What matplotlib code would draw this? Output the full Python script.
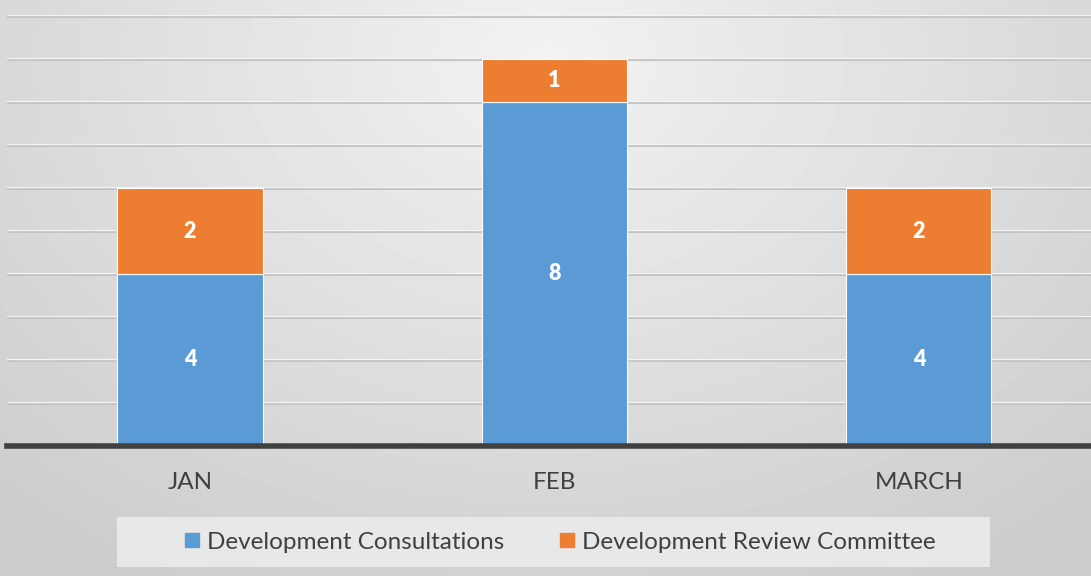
import numpy as np
import matplotlib.pyplot as plt
from matplotlib.patches import Rectangle
from matplotlib.lines import Line2D

months = ['JAN', 'FEB', 'MARCH']
consultations = [4, 8, 4]
review_committee = [2, 1, 2]
series_names = ['Development Consultations', 'Development Review Committee']
colors = ['#5b9bd5', '#ed7d31']

plt.rcParams['font.family'] = ['Lato', 'DejaVu Sans']

fig = plt.figure(figsize=(10.91, 5.76), dpi=100)

# soft radial gradient background
bg = fig.add_axes([0, 0, 1, 1], zorder=0)
yy, xx = np.mgrid[0:576, 0:1091]
r = np.sqrt(((xx - 545) / 700.0) ** 2 + ((yy - 60) / 520.0) ** 2)
shade = np.clip(0.95 - 0.13 * r, 0.80, 0.95)
bg.imshow(shade, cmap='gray', vmin=0, vmax=1, aspect='auto', extent=(0, 1, 0, 1))
bg.set_axis_off()

ax = fig.add_axes([7 / 1091, 130 / 576, 1 - 7 / 1091, 446 / 576], zorder=1)
ax.patch.set_alpha(0)
x = np.arange(len(months))
ax.set_xlim(-0.502, 2.472)
ax.set_ylim(0, 446 / 43)

for v in range(1, 11):
    ax.axhline(v, color='#c4c4c4', lw=2.2, zorder=1)
    ax.axhline(v + 0.012, color='#f4f4f4', lw=0.9, zorder=1)

w = 0.398
b1 = ax.bar(x, consultations, w, color=colors[0], edgecolor='white', lw=0.8, zorder=2)
b2 = ax.bar(x, review_committee, w, bottom=consultations, color=colors[1],
            edgecolor='white', lw=0.8, zorder=2)
for bars in (b1, b2):
    ax.bar_label(bars, label_type='center', color='white', fontsize=15.5,
                 fontweight='heavy')

ax.axhline(0, color='#404040', lw=4, zorder=3, clip_on=False)
for s in ax.spines.values():
    s.set_visible(False)
ax.set_yticks([])
ax.set_xticks(x)
ax.set_xticklabels(months, fontsize=17.5, color='#404040')
ax.tick_params(axis='x', length=0, pad=19)

# legend panel
fig.patches.append(Rectangle((117 / 1091, 9 / 576), 873 / 1091, 50 / 576,
                             transform=fig.transFigure, facecolor='#e8e8e8',
                             edgecolor='none', zorder=2))
handles = [Line2D([], [], marker='s', ls='', ms=10, color=c) for c in colors]
fig.legend(handles, series_names, loc='center', bbox_to_anchor=(559 / 1091, 34 / 576),
           ncol=2, frameon=False, fontsize=17.5, labelcolor='#404040',
           handletextpad=0.2, columnspacing=2.2, handlelength=0.8)

fig.savefig('out.png', dpi=100)
